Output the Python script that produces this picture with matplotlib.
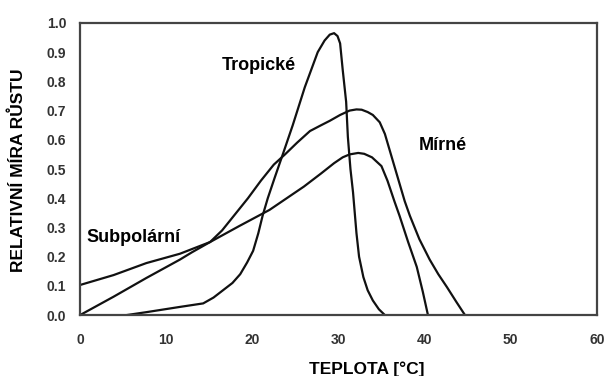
#!/usr/bin/env python
"""
Relative growth rate versus temperature for three climate groups.
"""

import matplotlib.pyplot as plt

# Points (temperature in degrees C, rate 0-1)
TROP_X = [5.4, 7.7, 11.6, 14.3, 15.5, 16.6, 17.7, 18.6, 19.4, 20.1, 20.7,
          21.2, 21.8, 22.6, 23.6, 24.7, 26.1, 27.6, 28.4, 29.0, 29.5, 29.9,
          30.2, 30.5, 30.9, 31.1, 31.4, 31.7, 31.9, 32.1, 32.4, 32.9, 33.4,
          34.0, 34.7, 35.4]
TROP_Y = [0.0, 0.01, 0.028, 0.04, 0.06, 0.085, 0.11, 0.14, 0.18, 0.22, 0.28,
          0.34, 0.40, 0.47, 0.555, 0.65, 0.78, 0.90, 0.94, 0.96, 0.965, 0.955,
          0.93, 0.84, 0.73, 0.61, 0.50, 0.42, 0.35, 0.28, 0.20, 0.13, 0.085,
          0.05, 0.02, 0.0]

MIRNE_X = [0.0, 3.9, 7.7, 11.6, 13.0, 15.1, 16.5, 18.0, 19.5, 21.0, 22.5,
           23.8, 25.2, 26.7, 28.0, 29.0, 30.2, 31.3, 32.1, 32.7, 33.4, 34.0,
           34.8, 35.4, 36.2, 37.1, 37.7, 38.3, 39.4, 40.6, 41.6, 42.6, 43.7,
           44.7]
MIRNE_Y = [0.0, 0.063, 0.127, 0.19, 0.215, 0.25, 0.29, 0.345, 0.40, 0.46,
           0.515, 0.55, 0.59, 0.63, 0.65, 0.665, 0.685, 0.70, 0.704, 0.703,
           0.695, 0.685, 0.66, 0.62, 0.54, 0.45, 0.39, 0.34, 0.26, 0.19, 0.14,
           0.096, 0.045, 0.0]

SUBPOL_X = [0.0, 3.9, 7.7, 11.6, 15.1, 18.5, 22.0, 24.0, 26.0, 28.0, 29.5,
            30.5, 31.3, 32.3, 33.0, 33.9, 35.0, 35.7, 36.5, 37.1, 38.1, 39.1,
            39.8, 40.4]
SUBPOL_Y = [0.103, 0.137, 0.178, 0.21, 0.25, 0.305, 0.36, 0.40, 0.44, 0.485,
            0.52, 0.54, 0.55, 0.555, 0.552, 0.54, 0.51, 0.46, 0.39, 0.34,
            0.25, 0.165, 0.08, 0.0]

X_TICKS = [0, 10, 20, 30, 40, 50, 60]
Y_TICKS = [0.0, 0.1, 0.2, 0.3, 0.4, 0.5, 0.6, 0.7, 0.8, 0.9, 1.0]


def plot():
    plt.rcParams['font.family'] = ['Liberation Sans', 'DejaVu Sans']
    fig = plt.figure(figsize=(6.04, 3.76), dpi=100)
    ax = fig.add_axes([0.1325, 0.162, 0.8555, 0.777])

    for xs, ys in [(TROP_X, TROP_Y), (MIRNE_X, MIRNE_Y), (SUBPOL_X, SUBPOL_Y)]:
        ax.plot(xs, ys, color="#111111", lw=1.6, solid_joinstyle="round")

    ax.set_xlim(0, 60)
    ax.set_ylim(0, 1.0)
    ax.set_xticks(X_TICKS)
    ax.set_yticks(Y_TICKS)
    ax.set_xticklabels([str(t) for t in X_TICKS])
    ax.set_yticklabels(["%.1f" % t for t in Y_TICKS])
    ax.tick_params(length=0, labelsize=10, colors="#333333")
    ax.tick_params(axis="x", pad=13)
    ax.tick_params(axis="y", pad=10)
    for lab in ax.get_xticklabels() + ax.get_yticklabels():
        lab.set_fontweight("bold")
    for sp in ax.spines.values():
        sp.set_linewidth(1.6)
        sp.set_color("#444444")

    ax.text(20.8, 0.853, "Tropické", fontsize=13, fontweight="bold",
            ha="center", va="center")
    ax.text(42.1, 0.582, "Mírné", fontsize=13, fontweight="bold",
            ha="center", va="center")
    ax.text(0.8, 0.267, "Subpolární", fontsize=13, fontweight="bold",
            ha="left", va="center")

    ax.set_xlabel("TEPLOTA [°C]", fontsize=12.5, fontweight="bold")
    ax.xaxis.set_label_coords(0.555, -0.16)
    ax.set_ylabel("RELATIVNÍ MÍRA RŮSTU", fontsize=12.5, fontweight="bold")
    ax.yaxis.set_label_coords(-0.105, 0.497)

    fig.savefig("out.png", dpi=100)


if __name__ == "__main__":
    plot()
